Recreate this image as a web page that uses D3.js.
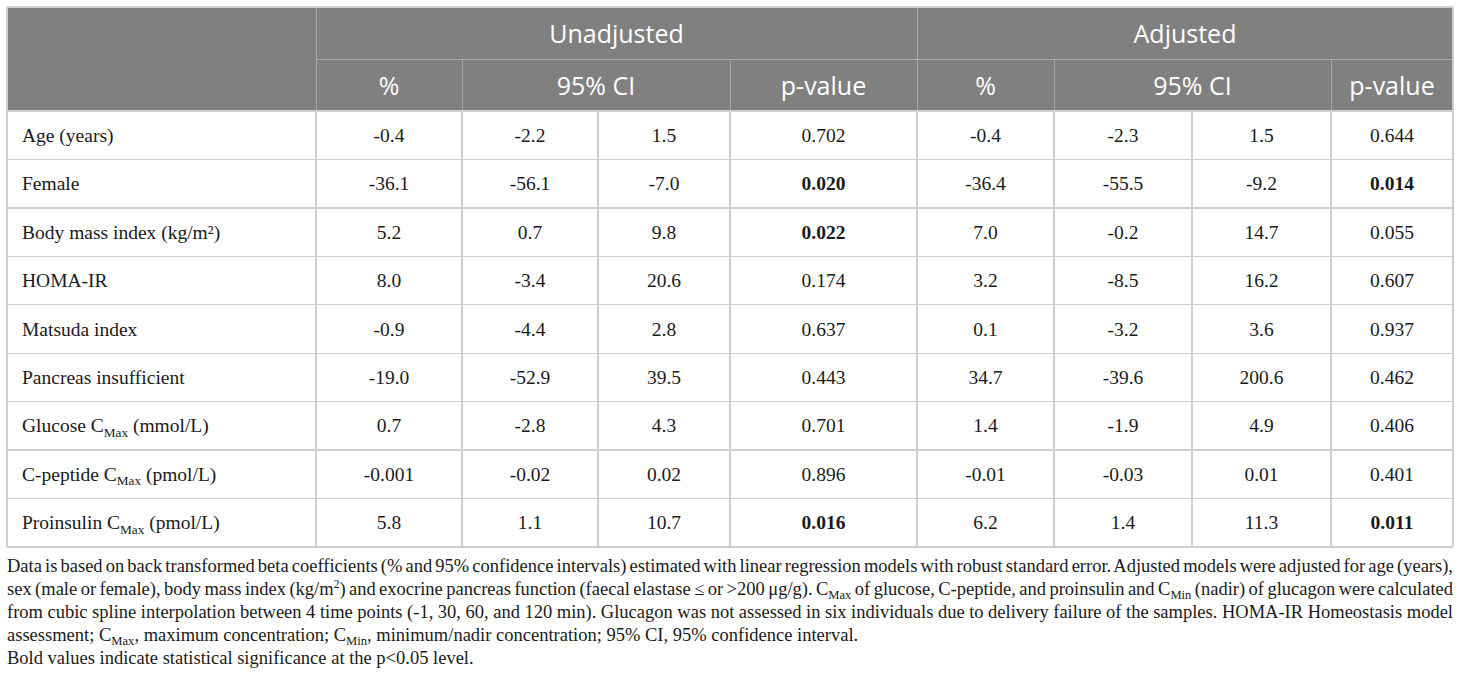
<!DOCTYPE html>
<html>
<head>
<meta charset="utf-8">
<script src="https://cdn.jsdelivr.net/npm/d3@7"></script>
<style>
  body { margin: 0; background: #fff; }
</style>
</head>
<body>
<div id="table"></div>
<script>
// row labels; subscript parts are kept as [text, sub] pairs
var variables = [
    [["Age (years)"]],
    [["Female"]],
    [["Body mass index (kg/m\u00B2)"]],
    [["HOMA-IR"]],
    [["Matsuda index"]],
    [["Pancreas insufficient"]],
    [["Glucose C"], ["Max", "sub"], [" (mmol/L)"]],
    [["C-peptide C"], ["Max", "sub"], [" (pmol/L)"]],
    [["Proinsulin C"], ["Max", "sub"], [" (pmol/L)"]]
];

var unadjPct   = ["-0.4", "-36.1", "5.2", "8.0", "-0.9", "-19.0", "0.7", "-0.001", "5.8"];
var unadjLow   = ["-2.2", "-56.1", "0.7", "-3.4", "-4.4", "-52.9", "-2.8", "-0.02", "1.1"];
var unadjHigh  = ["1.5", "-7.0", "9.8", "20.6", "2.8", "39.5", "4.3", "0.02", "10.7"];
var unadjP     = ["0.702", "0.020", "0.022", "0.174", "0.637", "0.443", "0.701", "0.896", "0.016"];

var adjPct     = ["-0.4", "-36.4", "7.0", "3.2", "0.1", "34.7", "1.4", "-0.01", "6.2"];
var adjLow     = ["-2.3", "-55.5", "-0.2", "-8.5", "-3.2", "-39.6", "-1.9", "-0.03", "1.4"];
var adjHigh    = ["1.5", "-9.2", "14.7", "16.2", "3.6", "200.6", "4.9", "0.01", "11.3"];
var adjP       = ["0.644", "0.014", "0.055", "0.607", "0.937", "0.462", "0.406", "0.401", "0.011"];

var groupHeaders = ["Unadjusted", "Adjusted"];
var subHeaders = ["%", "95% CI", "p-value"];

var footnote = [
    [["Data is based on back transformed beta coefficients (% and 95% confidence intervals) estimated with linear regression models with robust standard error. Adjusted models were adjusted for age (years),"]],
    [["sex (male or female), body mass index (kg/m"], ["2", "sup"], [") and exocrine pancreas function (faecal elastase \u2264 or >200 \u03BCg/g). C"], ["Max", "sub"], [" of glucose, C-peptide, and proinsulin and C"], ["Min", "sub"], [" (nadir) of glucagon were calculated"]],
    [["from cubic spline interpolation between 4 time points (-1, 30, 60, and 120 min). Glucagon was not assessed in six individuals due to delivery failure of the samples. HOMA-IR Homeostasis model"]],
    [["assessment; C"], ["Max", "sub"], [", maximum concentration; C"], ["Min", "sub"], [", minimum/nadir concentration; 95% CI, 95% confidence interval."]],
    [["Bold values indicate statistical significance at the p<0.05 level."]]
];

var width = 1460, height = 682;
var sig = 0.05;

// column edges of the table
var edges = [7, 316, 462, 598, 730, 917, 1054, 1192, 1331, 1453];
var tableTop = 7, head1 = 59, head2 = 111, tableBottom = 547;

var headFill = "#808080";
var headLine = "#a9a9a9";
var gridLine = "#cfcfcf";
var serif = "'Liberation Serif', 'Times New Roman', serif";
var sans = "'Open Sans', 'Noto Sans', sans-serif";

var svg = d3.select("#table").append("svg")
    .attr("width", width)
    .attr("height", height);

var y = d3.scaleBand()
    .domain(d3.range(variables.length))
    .range([head2, tableBottom]);

// header background
svg.append("rect")
    .attr("x", edges[0]).attr("y", tableTop)
    .attr("width", edges[9] - edges[0]).attr("height", head2 - tableTop)
    .attr("fill", headFill);

var hl = svg.append("g").attr("stroke", headLine).attr("stroke-width", 1).attr("shape-rendering", "crispEdges");
hl.append("line").attr("x1", edges[1]).attr("x2", edges[9]).attr("y1", head1 + 0.5).attr("y2", head1 + 0.5);
[1, 5].forEach(function (i) {
    hl.append("line").attr("x1", edges[i] + 0.5).attr("x2", edges[i] + 0.5).attr("y1", tableTop).attr("y2", head2);
});
[2, 4, 6, 8].forEach(function (i) {
    hl.append("line").attr("x1", edges[i] + 0.5).attr("x2", edges[i] + 0.5).attr("y1", head1).attr("y2", head2);
});

// group headers
svg.selectAll("text.group")
    .data(groupHeaders)
    .enter().append("text")
    .attr("class", "group")
    .attr("x", function (d, i) { return (edges[1 + i * 4] + edges[5 + i * 4]) / 2; })
    .attr("y", 43)
    .attr("text-anchor", "middle")
    .attr("font-family", sans)
    .attr("font-size", 25)
    .attr("fill", "#fff")
    .text(function (d) { return d; });

// sub headers
var subPos = [];
[0, 4].forEach(function (o) {
    subPos.push({ t: subHeaders[0], x: (edges[1 + o] + edges[2 + o]) / 2 });
    subPos.push({ t: subHeaders[1], x: (edges[2 + o] + edges[4 + o]) / 2 });
    subPos.push({ t: subHeaders[2], x: (edges[4 + o] + edges[5 + o]) / 2 });
});
svg.selectAll("text.sub")
    .data(subPos)
    .enter().append("text")
    .attr("class", "sub")
    .attr("x", function (d) { return d.x; })
    .attr("y", 95)
    .attr("text-anchor", "middle")
    .attr("font-family", sans)
    .attr("font-size", 25)
    .attr("fill", "#fff")
    .text(function (d) { return d.t; });

// grid of the body
var grid = svg.append("g").attr("stroke", gridLine).attr("stroke-width", 1.3).attr("shape-rendering", "crispEdges");
d3.range(variables.length + 1).forEach(function (i) {
    var yy = i < variables.length ? y(i) : tableBottom;
    grid.append("line").attr("x1", edges[0]).attr("x2", edges[9]).attr("y1", yy).attr("y2", yy);
});
edges.forEach(function (e) {
    grid.append("line").attr("x1", e).attr("x2", e).attr("y1", head2).attr("y2", tableBottom);
});
grid.append("line").attr("x1", edges[0]).attr("x2", edges[9]).attr("y1", tableTop).attr("y2", tableTop);
grid.append("line").attr("x1", edges[0]).attr("x2", edges[0]).attr("y1", tableTop).attr("y2", head2);
grid.append("line").attr("x1", edges[9]).attr("x2", edges[9]).attr("y1", tableTop).attr("y2", head2);

function addParts(sel, parts, size) {
    var subDy = size * 0.22, supDy = -size * 0.38;
    var prev = null;
    parts.forEach(function (p) {
        var t = sel.append("tspan").text(p[0]);
        var back = prev === "sub" ? -subDy : prev === "sup" ? -supDy : 0;
        var cur = p[1] === "sub" ? subDy : p[1] === "sup" ? supDy : 0;
        t.attr("dy", back + cur);
        if (p[1] === "sub") t.attr("font-size", size * 0.68);
        if (p[1] === "sup") t.attr("font-size", size * 0.62);
        prev = p[1] || null;
    });
}

var dataSize = 19.5;

// row labels
svg.selectAll("text.label")
    .data(variables)
    .enter().append("text")
    .attr("class", "label")
    .attr("x", 22)
    .attr("y", function (d, i) { return y(i) + y.bandwidth() / 2 + 6.5; })
    .attr("font-family", serif)
    .attr("font-size", dataSize)
    .attr("fill", "#1a1a1a")
    .each(function (d) { addParts(d3.select(this), d, dataSize); });

// value columns
var columns = [unadjPct, unadjLow, unadjHigh, unadjP, adjPct, adjLow, adjHigh, adjP];
var isP = [false, false, false, true, false, false, false, true];

columns.forEach(function (col, c) {
    svg.append("g").selectAll("text")
        .data(col)
        .enter().append("text")
        .attr("x", (edges[c + 1] + edges[c + 2]) / 2)
        .attr("y", function (d, i) { return y(i) + y.bandwidth() / 2 + 6.5; })
        .attr("text-anchor", "middle")
        .attr("font-family", serif)
        .attr("font-size", dataSize)
        .attr("font-weight", function (d) { return isP[c] && +d < sig ? "bold" : "normal"; })
        .attr("fill", "#1a1a1a")
        .text(function (d) { return d; });
});

// footnote, first lines justified to the table width
var noteSize = 18.5;
var noteBase = [572, 595, 618, 641, 664];
var notes = svg.selectAll("text.note")
    .data(footnote)
    .enter().append("text")
    .attr("class", "note")
    .attr("x", edges[0])
    .attr("y", function (d, i) { return noteBase[i]; })
    .attr("font-family", serif)
    .attr("font-size", noteSize)
    .attr("fill", "#1a1a1a")
    .each(function (d) { addParts(d3.select(this), d, noteSize); });

notes.each(function (d, i) {
    if (i > 2) return;
    var w = this.getComputedTextLength();
    var txt = d.map(function (p) { return p[0]; }).join("");
    var spaces = (txt.match(/ /g) || []).length;
    var extra = (edges[9] - edges[0] - w) / spaces;
    d3.select(this).attr("word-spacing", extra);
});
</script>
</body>
</html>
